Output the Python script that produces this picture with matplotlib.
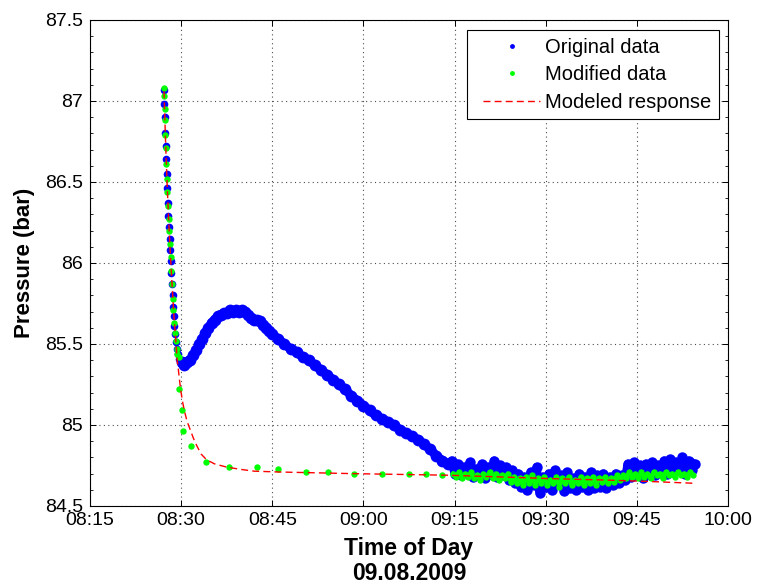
import matplotlib
matplotlib.use('Agg')
import matplotlib.pyplot as plt
from matplotlib.ticker import FixedLocator, MultipleLocator
from matplotlib.lines import Line2D
from matplotlib.legend_handler import HandlerLine2D

plt.rcParams['font.family'] = ['Liberation Sans', 'DejaVu Sans']

# ---- data (time in minutes after 08:00, pressure in bar) ----
orig_t = [27.2, 27.25, 27.3, 27.38, 27.45, 27.52, 27.6, 27.7, 27.8, 27.9, 28.0, 28.1, 28.2, 28.3,
          28.4, 28.5, 28.6, 28.7, 28.8, 28.9, 29.0, 29.15, 29.3, 29.5, 29.7, 29.9, 30.1, 30.3, 30.5,
          30.7, 30.9, 31.5, 32.0, 32.5, 33.0, 33.5, 34.0, 34.5, 35.0, 35.5, 36.0, 36.5, 37.0, 37.5,
          38.0, 38.5, 39.0, 39.5, 40.0, 40.5, 41.0, 41.5, 42.0, 42.5, 43.0, 43.5, 44.0, 44.5,
          45, 46, 47, 48, 49, 50, 51, 52, 53, 54, 55, 56, 57, 58, 59, 60, 61, 62, 63, 64, 65, 66,
          67, 68, 69, 70, 71, 72, 73, 74,
          74.5, 75.0, 75.5, 76.0, 76.5, 77.0, 77.5, 78.0, 78.5, 79.0, 79.5, 80.0, 80.5, 81.0,
          81.5, 82.0, 82.5, 83.0, 83.5, 84.0, 84.5, 85.0, 85.5, 86.0, 86.5, 87.0, 87.5, 88.0,
          88.5, 89.0, 89.5, 90.0, 90.5, 91.0, 91.5, 92.0, 92.5, 93.0, 93.5, 94.0, 94.5, 95.0,
          95.5, 96.0, 96.5, 97.0, 97.5, 98.0, 98.5, 99.0, 99.5, 100.0, 100.5, 101.0, 101.5,
          102.0, 102.5, 103.0, 103.5, 104.0, 104.5, 105.0, 105.5, 106.0, 106.5, 107.0, 107.5,
          108.0, 108.5, 109.0, 109.5, 110.0, 110.5, 111.0, 111.5, 112.0, 112.5, 113.0, 113.5,
          114.0, 114.5]
orig_p = [87.07, 86.98, 86.90, 86.80, 86.72, 86.64, 86.55, 86.46, 86.37, 86.29, 86.22, 86.15,
          86.08, 86.01, 85.94, 85.87, 85.80, 85.73, 85.67, 85.61, 85.56, 85.51, 85.47, 85.44,
          85.41, 85.40, 85.39, 85.38, 85.37, 85.38, 85.39, 85.40, 85.43, 85.46, 85.50, 85.53,
          85.57, 85.60, 85.63, 85.65, 85.67, 85.68, 85.69, 85.69, 85.71, 85.70, 85.71, 85.70,
          85.71, 85.70, 85.68, 85.66, 85.65, 85.65, 85.64, 85.62, 85.60, 85.58,
          85.56, 85.53, 85.50, 85.47, 85.45, 85.42, 85.40, 85.37, 85.34, 85.31, 85.28, 85.25,
          85.22, 85.18, 85.15, 85.12, 85.09, 85.06, 85.04, 85.02, 85.00, 84.97, 84.95, 84.93,
          84.91, 84.88, 84.85, 84.81, 84.78, 84.76,
          84.78, 84.70, 84.76, 84.69, 84.74, 84.71, 84.77, 84.68, 84.73, 84.70, 84.76, 84.67,
          84.74, 84.70, 84.78, 84.68, 84.75, 84.69, 84.74, 84.66, 84.72, 84.64, 84.70, 84.62,
          84.68, 84.60, 84.71, 84.63, 84.74, 84.58, 84.68, 84.62, 84.70, 84.60, 84.72, 84.64,
          84.69, 84.59, 84.71, 84.61, 84.67, 84.60, 84.70, 84.62, 84.68, 84.60, 84.71, 84.61,
          84.69, 84.62, 84.70, 84.61, 84.68, 84.63, 84.70, 84.64, 84.69, 84.66, 84.76, 84.68,
          84.77, 84.69, 84.75, 84.67, 84.76, 84.70, 84.77, 84.69, 84.75, 84.71, 84.78, 84.70,
          84.79, 84.71, 84.77, 84.72, 84.80, 84.70, 84.78, 84.72, 84.76]

mod_t = [27.18, 27.22, 27.27, 27.33, 27.40, 27.47, 27.55, 27.63, 27.72, 27.82, 27.92, 28.03,
         28.14, 28.26, 28.38, 28.5, 28.62, 28.74, 28.86, 28.98, 29.1, 29.25, 29.4, 29.6,
         29.65, 30.08, 30.36, 31.6, 34.1, 37.9, 42.5, 46.0, 50.5, 54.2, 58.5, 63.0, 67.5, 70.3,
         73.0,
         74.75, 75.25, 75.75, 76.25, 76.75, 77.25, 77.75, 78.25, 78.75, 79.25, 79.75, 80.25,
         80.75, 81.25, 81.75, 82.25, 82.75, 83.25, 83.75, 84.25, 84.75, 85.25, 85.75, 86.25,
         86.75, 87.25, 87.75, 88.25, 88.75, 89.25, 89.75, 90.25, 90.75, 91.25, 91.75, 92.25,
         92.75, 93.25, 93.75, 94.25, 94.75, 95.25, 95.75, 96.25, 96.75, 97.25, 97.75, 98.25,
         98.75, 99.25, 99.75, 100.25, 100.75, 101.25, 101.75, 102.25, 102.75, 103.25, 103.75,
         104.25, 104.75, 105.25, 105.75, 106.25, 106.75, 107.25, 107.75, 108.25, 108.75,
         109.25, 109.75, 110.25, 110.75, 111.25, 111.75, 112.25, 112.75, 113.25, 113.75, 114.25]
mod_p = [87.08, 87.03, 86.95, 86.88, 86.79, 86.71, 86.61, 86.52, 86.44, 86.35, 86.27, 86.20,
         86.12, 86.04, 85.95, 85.87, 85.78, 85.71, 85.63, 85.57, 85.52, 85.47, 85.44, 85.42,
         85.22, 85.09, 84.96, 84.87, 84.77, 84.74, 84.74, 84.73, 84.71, 84.71, 84.70, 84.70,
         84.70, 84.70, 84.69,
         84.70, 84.68, 84.71, 84.67, 84.70, 84.68, 84.71, 84.67, 84.69, 84.66, 84.70, 84.68,
         84.71, 84.67, 84.70, 84.66, 84.69, 84.67, 84.70, 84.65, 84.68, 84.64, 84.67, 84.63,
         84.68, 84.64, 84.69, 84.63, 84.67, 84.64, 84.68, 84.63, 84.66, 84.64, 84.68, 84.62,
         84.67, 84.64, 84.68, 84.63, 84.66, 84.64, 84.68, 84.63, 84.67, 84.64, 84.68, 84.63,
         84.67, 84.65, 84.68, 84.64, 84.67, 84.65, 84.69, 84.66, 84.69, 84.67, 84.71,
         84.68, 84.70, 84.67, 84.71, 84.68, 84.70, 84.67, 84.71, 84.69, 84.70,
         84.67, 84.71, 84.69, 84.70, 84.68, 84.71, 84.69, 84.70, 84.68, 84.71, 84.69]

model_t = [27.18, 27.35, 27.5, 27.7, 27.95, 28.2, 28.5, 28.8, 29.1, 29.35, 29.55, 29.75, 29.95,
           30.3, 30.65, 31.0, 31.5, 32.0, 32.6, 33.3, 34.2, 35.5, 37.5, 40.0, 42.0, 46.0, 52.0,
           58.0, 66.0, 74.0, 82.0, 90.0, 100.0, 108.0, 114.6]
model_p = [87.06, 86.85, 86.68, 86.48, 86.26, 86.07, 85.87, 85.68, 85.53, 85.40, 85.34, 85.27,
           85.21, 85.13, 85.07, 85.02, 84.97, 84.92, 84.87, 84.82, 84.785, 84.76, 84.74, 84.725,
           84.715, 84.71, 84.705, 84.70, 84.695, 84.69, 84.68, 84.67, 84.66, 84.65, 84.64]

x_ticks = [15, 30, 45, 60, 75, 90, 105, 120]
x_ticklabels = ['08:15', '08:30', '08:45', '09:00', '09:15', '09:30', '09:45', '10:00']
y_ticks = [84.5, 85, 85.5, 86, 86.5, 87, 87.5]
y_ticklabels = ['84.5', '85', '85.5', '86', '86.5', '87', '87.5']

BLUE = '#0000ff'
GREEN = '#00ff00'
RED = '#ff0000'

# ---- figure ----
fig = plt.figure(figsize=(7.6, 5.88), dpi=100)
ax = fig.add_axes([90 / 760, 1 - 506 / 588, 638 / 760, 486 / 588])

# original data: steep drop (thin) + dense band (sample cloud)
steep = [i for i, t in enumerate(orig_t) if t < 30.4]
band = [i for i, t in enumerate(orig_t) if t >= 30.0]
smooth = [i for i in band if orig_t[i] < 74.5]
noisy = [i for i in band if orig_t[i] >= 74.0]
ax.plot([orig_t[i] for i in steep], [orig_p[i] for i in steep], linestyle='none', marker='o',
        color=BLUE, ms=5.5, mew=0, zorder=3)
ax.plot([orig_t[i] for i in smooth], [orig_p[i] for i in smooth], '-', color=BLUE, lw=6.5,
        solid_capstyle='round', zorder=3)
ax.plot([orig_t[i] for i in smooth], [orig_p[i] for i in smooth], linestyle='none', marker='o',
        color=BLUE, ms=8.5, mew=0, zorder=3)
ax.plot([orig_t[i] for i in noisy], [orig_p[i] for i in noisy], '-', color=BLUE, lw=6.0,
        zorder=3)
ax.plot([orig_t[i] for i in noisy], [orig_p[i] for i in noisy], linestyle='none', marker='o',
        color=BLUE, ms=7.5, mew=0, zorder=3)

# modified data
gnoisy = [i for i, t in enumerate(mod_t) if t >= 74.5]
ax.plot([mod_t[i] for i in gnoisy], [mod_p[i] for i in gnoisy], '-', color=GREEN, lw=3.0,
        zorder=4)
ax.plot(mod_t, mod_p, linestyle='none', marker='o', color=GREEN, ms=4.6, mew=0, zorder=4)

# modeled response
ax.plot(model_t, model_p, linestyle='--', dashes=(5, 3), color=RED, lw=1.0, zorder=5)

ax.set_xlim(15, 120)
ax.set_ylim(84.5, 87.5)
ax.xaxis.set_major_locator(FixedLocator(x_ticks))
ax.set_xticklabels(x_ticklabels)
ax.yaxis.set_major_locator(FixedLocator(y_ticks))
ax.set_yticklabels(y_ticklabels)
ax.yaxis.set_minor_locator(MultipleLocator(0.1))

ax.grid(True, which='major', linestyle=(0, (1, 3)), color='0.3', lw=0.8, zorder=1)
ax.set_axisbelow(True)

ax.tick_params(which='both', direction='in', top=True, right=True, colors='black')
ax.tick_params(which='major', length=4.5, width=0.7)
ax.tick_params(which='minor', length=2.2, width=0.6)
ax.tick_params(axis='x', labelsize=14, pad=4)
ax.tick_params(axis='y', labelsize=14, pad=4.8)
for s in ax.spines.values():
    s.set_linewidth(0.8)
    s.set_color('black')

ax.set_xlabel('Time of Day\n09.08.2009', fontsize=16.5, fontweight='bold', linespacing=1.15)
ax.xaxis.set_label_coords(0.5, -0.063)
ax.set_ylabel('Pressure (bar)', fontsize=16, fontweight='bold')
ax.yaxis.set_label_coords(-0.086, 0.5)

# legend proxies
h_orig = Line2D([], [], linestyle='none', marker='o', color=BLUE, ms=3.5, mew=0)
h_mod = Line2D([], [], linestyle='none', marker='o', color=GREEN, ms=3.5, mew=0)
h_model = Line2D([], [], linestyle='--', dashes=(5, 3), color=RED, lw=1.0)
leg = ax.legend([h_orig, h_mod, h_model], ['Original data', 'Modified data', 'Modeled response'],
                loc='upper right', bbox_to_anchor=((719 - 90) / 638, 1 - 10 / 486),
                borderaxespad=0, fontsize=14.5, frameon=True, fancybox=False, framealpha=1,
                edgecolor='black', borderpad=0.38, labelspacing=0.42, handlelength=3.23,
                handletextpad=0.25, numpoints=1,
                handler_map={Line2D: HandlerLine2D(xpad=0.4)})
leg.get_frame().set_linewidth(0.8)
leg.set_zorder(10)

fig.savefig('out.png', dpi=100, facecolor='white')
